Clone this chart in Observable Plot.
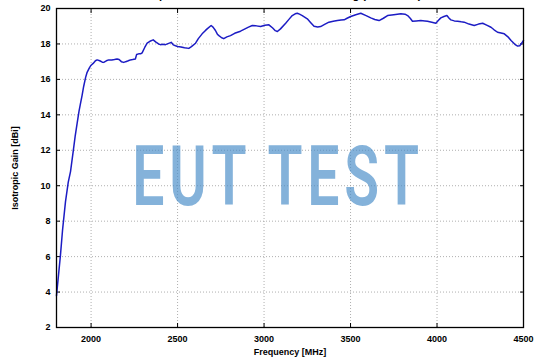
<!DOCTYPE html>
<html>
<head>
<meta charset="utf-8">
<script src="https://cdn.jsdelivr.net/npm/d3@7"></script>
<script src="https://cdn.jsdelivr.net/npm/@observablehq/plot@0.6"></script>
<style>
  html, body { margin: 0; padding: 0; background: #fff; overflow: hidden; }
  #wrap { position: relative; width: 543px; height: 357px; }
  #title { position: absolute; top: -10px; left: 0; width: 550px; text-align: center;
           font: bold 11px "Liberation Sans", Arial, sans-serif; line-height: 11px; color: #000; white-space: nowrap; }
</style>
</head>
<body>
<div id="wrap"><div id="title"></div></div>
<script>
const titleText = "Isotropic Gain BBHA 9120 D without cabling (measured)";
const xLabel = "Frequency [MHz]";
const yLabel = "Isotropic Gain [dBi]";
const watermark = "EUT TEST";
const xTicks = [2000, 2500, 3000, 3500, 4000, 4500];
const yTicks = [2, 4, 6, 8, 10, 12, 14, 16, 18, 20];
const freqMHz = [
  1800, 1812, 1823, 1835, 1852, 1868, 1881, 1896, 1908, 1919, 1930, 1938, 1948, 1957, 1968, 1977, 1990,
  2000, 2012, 2025, 2035, 2050, 2065, 2073, 2088, 2102, 2120, 2135, 2150, 2162, 2175, 2189, 2200, 2215,
  2227, 2240, 2256, 2263, 2275, 2288, 2295, 2310, 2324, 2340, 2359, 2375, 2390, 2401, 2415, 2430, 2445,
  2463, 2475, 2488, 2500, 2520, 2540, 2565, 2580, 2604, 2620, 2642, 2660, 2671, 2694, 2705, 2719, 2730,
  2739, 2755, 2767, 2785, 2806, 2830, 2864, 2890, 2910, 2932, 2955, 2980, 3005, 3028, 3050, 3065, 3077,
  3095, 3125, 3145, 3163, 3180, 3192, 3205, 3221, 3250, 3270, 3289, 3310, 3327, 3350, 3375, 3400, 3424,
  3445, 3463, 3480, 3501, 3530, 3559, 3590, 3617, 3640, 3665, 3690, 3714, 3750, 3791, 3815, 3830, 3845,
  3858, 3880, 3906, 3930, 3945, 3970, 3993, 4010, 4022, 4040, 4057, 4070, 4080, 4100, 4119, 4140, 4157,
  4185, 4215, 4240, 4264, 4290, 4312, 4330, 4350, 4370, 4389, 4410, 4428, 4450, 4466, 4478, 4490, 4500
];
const gainDBi = [
  3.8, 5.0, 6.1, 7.5, 9.1, 10.2, 10.8, 11.9, 12.8, 13.5, 14.2, 14.6, 15.1, 15.6, 16.1, 16.4, 16.65,
  16.8, 16.9, 17.05, 17.1, 17.05, 16.97, 16.96, 17.05, 17.1, 17.1, 17.12, 17.15, 17.12, 17.0, 16.96, 17.0, 17.05,
  17.1, 17.12, 17.15, 17.4, 17.44, 17.45, 17.5, 17.8, 18.04, 18.15, 18.23, 18.1, 18.0, 17.96, 17.98, 17.96, 18.02,
  18.09, 17.95, 17.9, 17.86, 17.83, 17.78, 17.75, 17.85, 18.04, 18.3, 18.57, 18.75, 18.85, 19.04, 18.95, 18.76, 18.55,
  18.47, 18.35, 18.3, 18.4, 18.47, 18.6, 18.72, 18.85, 18.95, 19.04, 19.02, 18.98, 19.05, 19.08, 18.9, 18.75, 18.7,
  18.85, 19.17, 19.4, 19.6, 19.7, 19.73, 19.68, 19.6, 19.42, 19.2, 19.0, 18.96, 18.98, 19.1, 19.23, 19.28, 19.32,
  19.35, 19.36, 19.45, 19.55, 19.65, 19.73, 19.6, 19.47, 19.38, 19.32, 19.45, 19.6, 19.65, 19.7, 19.68, 19.6, 19.45,
  19.28, 19.3, 19.32, 19.3, 19.28, 19.22, 19.17, 19.35, 19.47, 19.55, 19.6, 19.45, 19.36, 19.3, 19.28, 19.25, 19.23,
  19.12, 19.04, 19.12, 19.17, 19.05, 18.94, 18.8, 18.66, 18.62, 18.57, 18.4, 18.19, 17.98, 17.88, 17.9, 18.05, 18.2
];
const data = freqMHz.map((f, i) => ({f, g: gainDBi[i]}));

document.getElementById("title").textContent = titleText;

const font = "'Liberation Sans', Arial, sans-serif";
const plot = Plot.plot({
  width: 543,
  height: 357,
  marginLeft: 56,
  marginRight: 20,
  marginTop: 8,
  marginBottom: 30,
  style: {fontFamily: font, fontSize: "9px", fontWeight: "bold", color: "#000", background: "transparent", overflow: "visible"},
  x: {domain: [1800, 4500]},
  y: {domain: [2, 20]},
  marks: [
    Plot.gridX(xTicks, {stroke: "#9a9a9a", strokeOpacity: 1, strokeDasharray: "1,2", strokeWidth: 0.8}),
    Plot.gridY(yTicks, {stroke: "#9a9a9a", strokeOpacity: 1, strokeDasharray: "1,2", strokeWidth: 0.8}),
    Plot.axisX(xTicks, {tickSize: 0, tickPadding: 8, tickFormat: "d", label: xLabel, labelAnchor: "center", labelOffset: 27, labelArrow: "none", fontWeight: "bold"}),
    Plot.axisY(yTicks, {tickSize: 0, tickPadding: 6, tickFormat: "d", label: yLabel, labelAnchor: "center", labelOffset: 45, labelArrow: "none", fontWeight: "bold"}),
    Plot.axisY(yTicks, {anchor: "right", tickSize: -4, tickFormat: () => "", label: null}),
    Plot.axisY(yTicks, {anchor: "left", tickSize: -4, tickFormat: () => "", label: null}),
    Plot.axisX(xTicks, {anchor: "top", tickSize: -4, tickFormat: () => "", label: null}),
    Plot.axisX(xTicks, {anchor: "bottom", tickSize: -4, tickFormat: () => "", label: null}),
    Plot.text([watermark], {frameAnchor: "middle", text: d => d, dx: -12, dy: 10, fontSize: 84, fontWeight: 600,
      fontFamily: "Roboto", fill: "#4a8ec9", fillOpacity: 0.68}),
    Plot.line(data, {x: "f", y: "g", stroke: "#1c1cc4", strokeWidth: 1.5, curve: "linear"}),
    Plot.frame({stroke: "#000", strokeWidth: 1.3})
  ]
});
document.getElementById("wrap").appendChild(plot);

// condense the watermark glyphs
plot.querySelectorAll("text").forEach(t => {
  if (t.textContent === watermark) {
    const tr = t.getAttribute("transform") || "";
    t.setAttribute("transform", tr + " scale(0.68,1)");
    t.style.letterSpacing = "7px";
  }
});
</script>
</body>
</html>
